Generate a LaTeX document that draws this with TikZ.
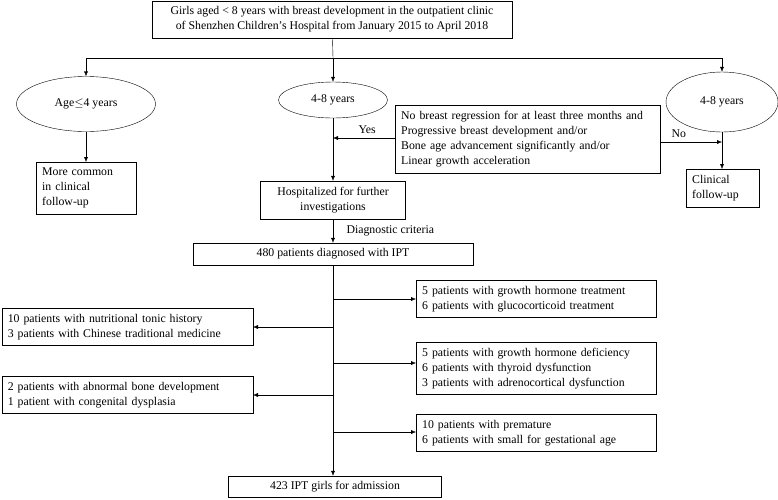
\documentclass[tikz,border=0pt]{standalone}
\usepackage{fontspec}
\setmainfont{Liberation Serif}
\usetikzlibrary{shapes.geometric,arrows.meta}

\begin{document}
\begin{tikzpicture}[x=1pt, y=-1pt, font=\fontsize{11.8}{15}\selectfont,
	box/.style={draw, inner xsep=6pt, inner ysep=3pt, align=left},
	oval/.style={draw, ellipse, inner sep=1pt},
	arr/.style={-{Latex[length=5pt,width=4pt]}}]
	\useasboundingbox (0,0) rectangle (778,499);
	% top
	\node[box, align=center, minimum width=360, minimum height=37] (top) at (332,19.5) {Girls aged < 8 years with breast development in the outpatient clinic\\of Shenzhen Children's Hospital from January 2015 to April 2018};
	\coordinate (split) at (333,58);
	\coordinate (lsplit) at (86,58);
	\coordinate (rsplit) at (722,58);
	\node[oval, minimum width=139, minimum height=55] (young) at (86,104) {Age$\leq$4 years};
	\node[oval, minimum width=109, minimum height=36] (mid) at (333,100) {4-8 years};
	\node[oval, minimum width=112, minimum height=60] (old) at (722,102) {4-8 years};
	\draw (top) -- (split);
	\draw (lsplit) -- (rsplit);
	\draw[arr] (lsplit) -- (young);
	\draw[arr] (split) -- (mid);
	\draw[arr] (rsplit) -- (old);
	% second row
	\node[box, text width=88, minimum height=52, anchor=north west] (common) at (36,162) {More common\\in clinical\\follow-up};
	\node[box, text width=253, minimum height=68, anchor=north west] (crit) at (395,105) {No breast regression for at least three months and\\Progressive breast development and/or\\Bone age advancement significantly and/or\\Linear growth acceleration};
	\node[box, align=center, minimum width=145, minimum height=38] (hosp) at (333,200) {Hospitalized for further\\investigations};
	\node[box, text width=61, minimum height=38, anchor=north west] (clin) at (686,169) {Clinical\\follow-up};
	\coordinate (yes) at (333,138);
	\coordinate (no) at (722,142);
	\draw[arr] (young) -- (common.north -| young);
	\draw[arr] (mid) -- (hosp);
	\draw[arr] (crit.west |- yes) -- node[above=1pt, pos=.45] {Yes} (yes);
	\draw[arr] (crit.east |- no) -- node[above=1pt, pos=.3] {No} (no);
	\draw[arr] (old) -- (clin.north -| old);
	% IPT
	\node[box, align=center, minimum width=280, minimum height=22, inner ysep=1pt] (ipt) at (333,254) {480 patients diagnosed with IPT};
	\draw[arr] (hosp) -- node[right=10pt] {Diagnostic criteria} (ipt);
	\node[box, align=center, minimum width=213, minimum height=21, inner ysep=1pt] (final) at (335,486.5) {423 IPT girls for admission};
	\draw[arr] (ipt.south -| split) -- (final.north -| split);
	% exclusions
	\node[box, text width=228, minimum height=37, anchor=north west] (r1) at (416,280) {5 patients with growth hormone treatment\\6 patients with glucocorticoid treatment};
	\node[box, text width=228, minimum height=52, anchor=north west] (r2) at (416,342) {5 patients with growth hormone deficiency\\6 patients with thyroid dysfunction\\3 patients with adrenocortical dysfunction};
	\node[box, text width=228, minimum height=37, anchor=north west] (r3) at (416,414) {10 patients with premature\\6 patients with small for gestational age};
	\node[box, text width=239, minimum height=37, anchor=north east] (l1) at (253,308) {10 patients with nutritional tonic history\\3 patients with Chinese traditional medicine};
	\node[box, text width=239, minimum height=37, anchor=north east] (l2) at (253,376) {2 patients with abnormal bone development\\1 patient with congenital dysplasia};
	\coordinate (r1s) at (333,299);
	\coordinate (r2s) at (333,363);
	\coordinate (r3s) at (333,432);
	\coordinate (l1s) at (333,327);
	\coordinate (l2s) at (333,395);
	\draw[arr] (r1s) -- (r1.west |- r1s);
	\draw[arr] (r2s) -- (r2.west |- r2s);
	\draw[arr] (r3s) -- (r3.west |- r3s);
	\draw[arr] (l1s) -- (l1.east |- l1s);
	\draw[arr] (l2s) -- (l2.east |- l2s);
\end{tikzpicture}
\end{document}
